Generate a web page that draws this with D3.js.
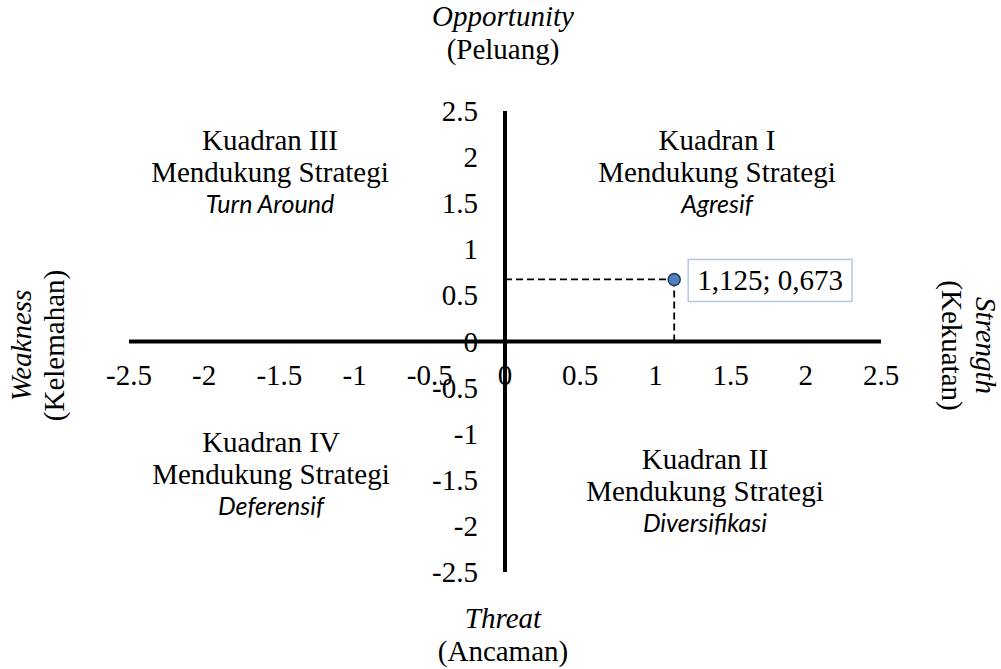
<!DOCTYPE html>
<html>
<head>
<meta charset="utf-8">
<script src="https://cdn.jsdelivr.net/npm/d3@7"></script>
<style>
  html, body { margin: 0; padding: 0; background: #fff; }
  svg { display: block; }
  .serif { font-family: "Liberation Serif", "Times New Roman", serif; }
  .sans-it { font-family: Lato, "Open Sans", sans-serif; font-style: italic; }
</style>
</head>
<body>
<svg id="chart" width="1001" height="669"></svg>
<script>
// ticks on both axes
const xTicks = [-2.5, -2, -1.5, -1, -0.5, 0, 0.5, 1, 1.5, 2, 2.5]
const yTicks = [-2.5, -2, -1.5, -1, -0.5, 0, 0.5, 1, 1.5, 2, 2.5]

// the single IFAS / EFAS result point
const pointX = [1.125]
const pointY = [0.673]
const pointLabels = ["1,125; 0,673"]

// quadrant texts
const quadNames = ["Kuadran I", "Kuadran II", "Kuadran III", "Kuadran IV"]
const quadSupport = ["Mendukung Strategi", "Mendukung Strategi", "Mendukung Strategi", "Mendukung Strategi"]
const quadStrategy = ["Agresif", "Diversifikasi", "Turn Around", "Deferensif"]

// axis titles
const topTitle = ["Opportunity", "(Peluang)"]
const bottomTitle = ["Threat", "(Ancaman)"]
const leftTitle = ["Weakness", "(Kelemahan)"]
const rightTitle = ["Strength", "(Kekuatan)"]

const svg = d3.select("#chart")

let x = d3.scaleLinear().domain([-2.5, 2.5]).range([129, 881])
let y = d3.scaleLinear().domain([-2.5, 2.5]).range([572, 111])

// where the quadrant blocks sit (pixel centre x, baseline of first line)
const quadPos = [[717, 150], [705, 469], [270, 150], [271, 452]]

/**
 * Tick labels, drawn under the axis lines like Excel does.
 */
function drawTickLabels () {
  svg.append("g")
    .selectAll("text")
    .data(xTicks)
    .enter()
    .append("text")
    .attr("class", "serif")
    .attr("x", d => x(d))
    .attr("y", y(0) + 43)
    .attr("text-anchor", "middle")
    .attr("font-size", "29px")
    .text(d => String(d))

  svg.append("g")
    .selectAll("text")
    .data(yTicks)
    .enter()
    .append("text")
    .attr("class", "serif")
    .attr("x", x(0) - 27)
    .attr("y", d => y(d) + 10)
    .attr("text-anchor", "end")
    .attr("font-size", "29px")
    .text(d => String(d))
}

function drawAxes () {
  svg.append("line")
    .attr("x1", x(-2.5)).attr("x2", x(2.5))
    .attr("y1", y(0)).attr("y2", y(0))
    .attr("stroke", "black")
    .attr("stroke-width", 4)

  svg.append("line")
    .attr("x1", x(0)).attr("x2", x(0))
    .attr("y1", y(2.5)).attr("y2", y(-2.5))
    .attr("stroke", "black")
    .attr("stroke-width", 4)
}

function drawQuadrants () {
  let g = svg.append("g")
  quadNames.forEach(function (name, i) {
    let cx = quadPos[i][0]
    let by = quadPos[i][1]
    g.append("text").attr("class", "serif")
      .attr("x", cx).attr("y", by)
      .attr("text-anchor", "middle").attr("font-size", "29px")
      .text(name)
    g.append("text").attr("class", "serif")
      .attr("x", cx).attr("y", by + 32)
      .attr("text-anchor", "middle").attr("font-size", "29px")
      .text(quadSupport[i])
    g.append("text").attr("class", "sans-it")
      .attr("x", cx).attr("y", by + 63)
      .attr("text-anchor", "middle").attr("font-size", "25px")
      .text(quadStrategy[i])
  })
}

function drawPoint () {
  let g = svg.append("g")
  let pts = pointX.map((v, i) => ({ x: v, y: pointY[i], label: pointLabels[i] }))

  // dashed guides to both axes
  g.selectAll(".hguide")
    .data(pts).enter()
    .append("line")
    .attr("x1", x(0)).attr("x2", d => x(d.x))
    .attr("y1", d => y(d.y)).attr("y2", d => y(d.y))
    .attr("stroke", "black").attr("stroke-width", 1.8)
    .attr("stroke-dasharray", "7,4")

  g.selectAll(".vguide")
    .data(pts).enter()
    .append("line")
    .attr("x1", d => x(d.x)).attr("x2", d => x(d.x))
    .attr("y1", d => y(d.y)).attr("y2", y(0))
    .attr("stroke", "black").attr("stroke-width", 1.8)
    .attr("stroke-dasharray", "7,4")

  g.selectAll("circle")
    .data(pts).enter()
    .append("circle")
    .attr("cx", d => x(d.x))
    .attr("cy", d => y(d.y))
    .attr("r", 6)
    .attr("fill", "#4F81BD")
    .attr("stroke", "#1F3864")
    .attr("stroke-width", 1.5)

  pts.forEach(function (d) {
    let lbl = g.append("text").attr("class", "serif")
      .attr("x", x(d.x) + 23).attr("y", y(d.y) + 11)
      .attr("font-size", "29px")
      .text(d.label)
    let bb = lbl.node().getBBox()
    g.insert("rect", "text")
      .attr("x", bb.x - 9).attr("y", y(d.y) - 20)
      .attr("width", bb.width + 18).attr("height", 42)
      .attr("fill", "white")
      .attr("stroke", "#B4C7E7")
      .attr("stroke-width", 1.5)
  })
}

function drawTitles () {
  let cx = x(0) - 2
  svg.append("text").attr("class", "serif").attr("font-style", "italic")
    .attr("x", cx).attr("y", 26).attr("text-anchor", "middle").attr("font-size", "29px")
    .text(topTitle[0])
  svg.append("text").attr("class", "serif")
    .attr("x", cx).attr("y", 59).attr("text-anchor", "middle").attr("font-size", "29px")
    .text(topTitle[1])

  svg.append("text").attr("class", "serif").attr("font-style", "italic")
    .attr("x", cx).attr("y", 628).attr("text-anchor", "middle").attr("font-size", "29px")
    .text(bottomTitle[0])
  svg.append("text").attr("class", "serif")
    .attr("x", cx).attr("y", 661).attr("text-anchor", "middle").attr("font-size", "29px")
    .text(bottomTitle[1])

  let cy = y(0) + 4
  svg.append("text").attr("class", "serif").attr("font-style", "italic")
    .attr("transform", "translate(31," + cy + ") rotate(-90)")
    .attr("text-anchor", "middle").attr("font-size", "29px")
    .text(leftTitle[0])
  svg.append("text").attr("class", "serif")
    .attr("transform", "translate(64," + cy + ") rotate(-90)")
    .attr("text-anchor", "middle").attr("font-size", "29px")
    .text(leftTitle[1])

  svg.append("text").attr("class", "serif").attr("font-style", "italic")
    .attr("transform", "translate(976," + cy + ") rotate(90)")
    .attr("text-anchor", "middle").attr("font-size", "29px")
    .text(rightTitle[0])
  svg.append("text").attr("class", "serif")
    .attr("transform", "translate(942," + cy + ") rotate(90)")
    .attr("text-anchor", "middle").attr("font-size", "29px")
    .text(rightTitle[1])
}

drawTickLabels()
drawQuadrants()
drawPoint()
drawAxes()
drawTitles()
</script>
</body>
</html>
